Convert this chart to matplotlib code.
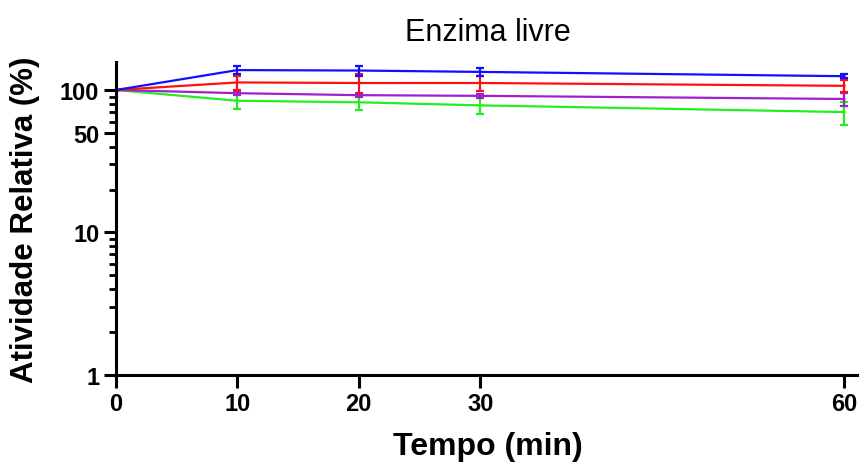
import matplotlib
matplotlib.use("Agg")
import matplotlib.pyplot as plt
from matplotlib.ticker import FixedLocator, NullFormatter

time_min = [0, 10, 20, 30, 60]
x_ticks = [0, 10, 20, 30, 60]
y_ticks = [1, 10, 50, 100]
y_tick_labels = ["1", "10", "50", "100"]

blue_vals = [100, 138, 137, 134, 125]
blue_err = [0, 9, 11, 8, 4]
red_vals = [100, 113, 112, 112, 107]
red_err = [0, 13, 18, 14, 10]
purple_vals = [100, 95, 92, 91, 86.5]
purple_err = [0, 3, 3, 3, 9]
green_vals = [100, 84, 82, 78, 70]
green_err = [0, 11, 10, 10, 13]

series = [
    (green_vals, green_err, "#22EE22"),
    (purple_vals, purple_err, "#A020D0"),
    (red_vals, red_err, "#FF1010"),
    (blue_vals, blue_err, "#1010FF"),
]

plt.rcParams['font.family'] = ['Liberation Sans', 'DejaVu Sans']

fig = plt.figure(figsize=(8.59, 4.64), dpi=100)
ax = fig.add_axes([0.135, 0.19, 0.865, 0.674])

for vals, err, col in series:
    ax.errorbar(time_min, vals, yerr=err, color=col, lw=1.6, elinewidth=1.6,
                capsize=3, capthick=1.6)

ax.set_yscale('log')
ax.set_ylim(1, 157)
ax.set_xlim(0, 61.2)

ax.set_xticks(x_ticks)
ax.set_xticklabels([str(t) for t in x_ticks], fontsize=17, fontweight='bold')
ax.yaxis.set_major_locator(FixedLocator(y_ticks))
ax.set_yticklabels(y_tick_labels, fontsize=17, fontweight='bold')
minor = [2, 3, 4, 5, 6, 7, 8, 9, 20, 30, 40, 60, 70, 80, 90]
ax.yaxis.set_minor_locator(FixedLocator(minor))
ax.yaxis.set_minor_formatter(NullFormatter())

for s in ['top', 'right']:
    ax.spines[s].set_visible(False)
for s in ['left', 'bottom']:
    ax.spines[s].set_linewidth(2.2)

ax.tick_params(axis='both', which='major', length=9, width=2.2, direction='out', pad=3)
ax.tick_params(axis='y', which='minor', length=5, width=2.0, direction='out')

ax.set_xlabel('Tempo (min)', fontsize=23, fontweight='bold', labelpad=12)
ax.set_ylabel('Atividade Relativa (%)', fontsize=22.5, fontweight='bold', labelpad=14)
ax.set_title('Enzima livre', fontsize=22, pad=16)

fig.savefig('out.png', dpi=100)
